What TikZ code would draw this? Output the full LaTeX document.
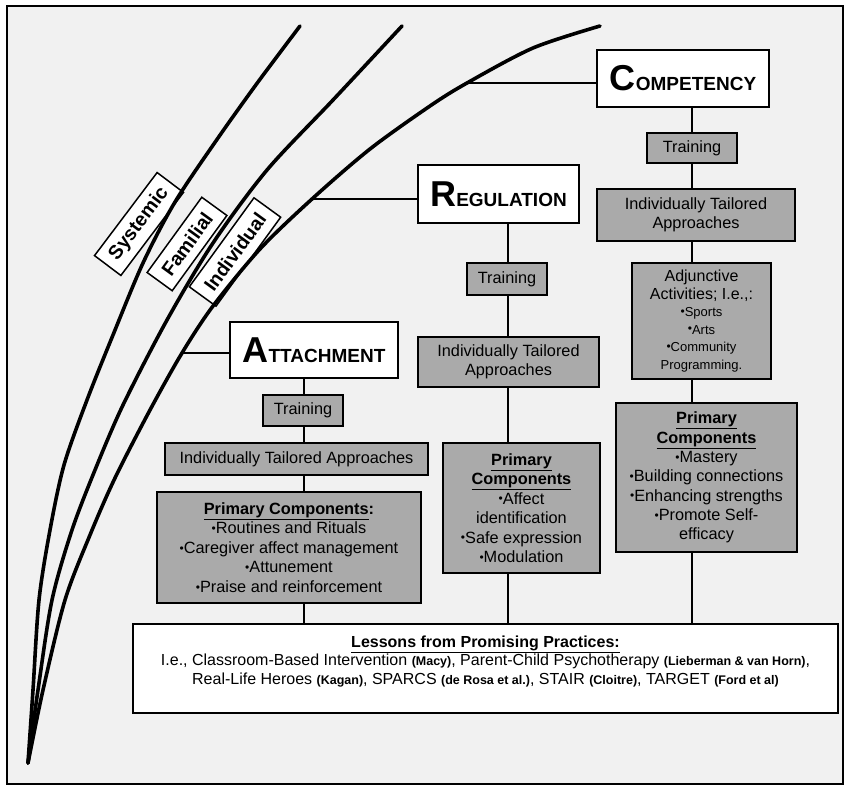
\documentclass[tikz,border=0pt]{standalone}
\usepackage{fontspec}
\setmainfont{Liberation Sans}
\definecolor{boxgray}{RGB}{170,170,170}
\definecolor{paper}{RGB}{241,241,241}
\newcommand\bul{{\fontsize{12}{12}\selectfont\raisebox{0.2ex}{•}}}
\newcommand\refs[1]{{\bfseries\fontsize{12.5}{14}\selectfont #1}}
\newcommand\uhead[1]{\underline{\textbf{#1}}}
\newcommand\minor{\fontsize{13}{14}\selectfont}
\newcommand\heading[2]{{\bfseries\fontsize{36}{36}\selectfont #1}{\bfseries\fontsize{19}{19}\selectfont #2}}
\begin{document}
\begin{tikzpicture}[x=1pt,y=-1pt,
  curve/.style={line width=3.6pt, line cap=round},
  link/.style={line width=1.5pt},
  level/.style={draw, line width=1.5pt, fill=white, inner sep=0pt},
  tag/.style={draw, line width=1.5pt, fill=white, inner sep=0pt, font=\bfseries\fontsize{19.5}{19.5}\selectfont},
  part/.style={draw, line width=1.5pt, fill=boxgray, align=center, inner sep=0pt, font=\fontsize{16.3}{19.5}\selectfont}]

  \useasboundingbox (0,0) rectangle (846,786);
  \draw[line width=1.5pt, fill=paper] (7,6) rectangle (843,784);

  % layer tags
  \node[tag, rotate=53, minimum width=104, minimum height=33] (sys) at (139,224) {Systemic};
  \node[tag, rotate=54, minimum width=93, minimum height=31] (fam) at (187,244) {Familial};
  \node[tag, rotate=54, minimum width=110, minimum height=33] (ind) at (235,252) {Individual};

  % the three arcs
  \draw[curve] plot [smooth] coordinates {(28,763) (33,690) (39,600) (50,530) (64,465) (87,400) (113,335) (143,263) (175,202) (218,138) (258,82) (300,26)};
  \draw[curve] plot [smooth] coordinates {(28,763) (38,690) (52,600) (72,530) (95,470) (123,405) (167,320) (213,243) (267,170) (333,100) (402,26)};
  \draw[curve] plot [smooth] coordinates {(28,763) (43,690) (65,600) (90,535) (115,478) (150,410) (182,353) (213,306) (260,249) (312,199) (370,149) (430,106) (467,83) (533,48) (600,26)};

  % levels
  \node[level, minimum width=172, minimum height=57] (comp) at (683,78.5) {\heading{C}{OMPETENCY}};
  \node[level, minimum width=161, minimum height=58] (reg) at (498.5,194) {\heading{R}{EGULATION}};
  \node[level, minimum width=168, minimum height=56] (att) at (314,350) {\heading{A}{TTACHMENT}};

  % competency column
  \node[part, minimum width=90, minimum height=30] (ctrain) at (692,148) {Training};
  \node[part, minimum width=198, minimum height=52] (cita) at (696,215) {Individually Tailored\\Approaches};
  \node[part, minimum width=139, minimum height=116, font=\fontsize{16}{17.5}\selectfont] (cadj) at (701.5,321)
    {Adjunctive\\Activities; I.e.,:\\\minor\bul Sports\\\minor\bul Arts\\\minor\bul Community\\\minor Programming.};
  \node[part, minimum width=181, minimum height=149, font=\fontsize{16.3}{19.3}\selectfont] (cprim) at (706.5,477.5)
    {\uhead{Primary}\\\uhead{Components}\\\bul Mastery\\\bul Building connections\\\bul Enhancing strengths\\\bul Promote Self-\\efficacy};

  % regulation column
  \node[part, minimum width=80, minimum height=32] (rtrain) at (507,279) {Training};
  \node[part, minimum width=181, minimum height=50] (rita) at (508.5,362) {Individually Tailored\\Approaches};
  \node[part, minimum width=157, minimum height=130] (rprim) at (521.5,508)
    {\uhead{Primary}\\\uhead{Components}\\\bul Affect\\identification\\\bul Safe expression\\\bul Modulation};

  % attachment column
  \node[part, minimum width=80, minimum height=31] (atrain) at (303,410.5) {Training};
  \node[part, minimum width=263, minimum height=32] (aita) at (296.5,459) {Individually Tailored Approaches};
  \node[part, minimum width=264, minimum height=111] (aprim) at (289,547.5)
    {\uhead{Primary Components}\textbf{:}\\\bul Routines and Rituals\\\bul Caregiver affect management\\\bul Attunement\\\bul Praise and reinforcement};

  % lessons
  \node[draw, line width=1.5pt, fill=white, minimum width=705, minimum height=89] (lessons) at (485.5,668.5) {};
  \node[anchor=north, align=center, font=\fontsize{16}{18.5}\selectfont] (lessontext) at ([yshift=-9pt]lessons.north)
    {\uhead{Lessons from Promising Practices:}\\
     I.e., Classroom-Based Intervention \refs{(Macy)}, Parent-Child Psychotherapy \refs{(Lieberman \& van Horn)},\\
     Real-Life Heroes \refs{(Kagan)}, SPARCS \refs{(de Rosa et al.)}, STAIR \refs{(Cloitre)}, TARGET \refs{(Ford et al)}};

  % connectors
  \coordinate (acol) at (304,0);
  \coordinate (rcol) at (508,0);
  \coordinate (ccol) at (692,0);
  \draw[link] (acol |- att.south) -- (acol |- atrain.north);
  \draw[link] (acol |- atrain.south) -- (acol |- aita.north);
  \draw[link] (acol |- aita.south) -- (acol |- aprim.north);
  \draw[link] (acol |- aprim.south) -- (acol |- lessons.north);
  \draw[link] (rcol |- reg.south) -- (rcol |- rtrain.north);
  \draw[link] (rcol |- rtrain.south) -- (rcol |- rita.north);
  \draw[link] (rcol |- rita.south) -- (rcol |- rprim.north);
  \draw[link] (rcol |- rprim.south) -- (rcol |- lessons.north);
  \draw[link] (ccol |- comp.south) -- (ccol |- ctrain.north);
  \draw[link] (ccol |- ctrain.south) -- (ccol |- cita.north);
  \draw[link] (ccol |- cita.south) -- (ccol |- cadj.north);
  \draw[link] (ccol |- cadj.south) -- (ccol |- cprim.north);
  \draw[link] (ccol |- cprim.south) -- (ccol |- lessons.north);
  \coordinate (atop) at (182,353);
  \coordinate (rtop) at (312,199);
  \coordinate (ctop) at (467,83);
  \draw[link] (atop) -- (atop -| att.west);
  \draw[link] (rtop) -- (rtop -| reg.west);
  \draw[link] (ctop) -- (ctop -| comp.west);
\end{tikzpicture}
\end{document}
